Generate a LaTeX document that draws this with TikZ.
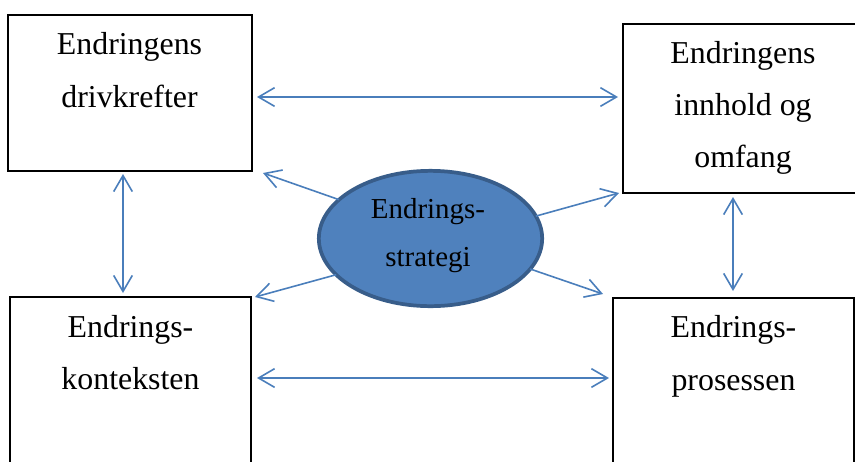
\documentclass[tikz,border=0pt]{standalone}
\usepackage{fontspec}
\setmainfont{Liberation Serif}
\usetikzlibrary{arrows.meta,shapes.geometric}
\definecolor{arrowblue}{HTML}{4A7EBB}
\definecolor{ellfill}{HTML}{4F81BD}
\definecolor{elldraw}{HTML}{385D8A}
\tikzset{
  boxshape/.style={draw=black, line width=1pt, rectangle, inner sep=0pt, outer sep=0pt},
  boxtext/.style={anchor=base, inner sep=0pt, font=\fontsize{23.9}{28}\selectfont},
  elltext/.style={anchor=base, inner sep=0pt, font=\fontsize{21.7}{26}\selectfont},
  dblarr/.style={draw=arrowblue, line width=1.2pt, {Straight Barb[length=12pt,width=14pt]}-{Straight Barb[length=12pt,width=14pt]}},
  onearr/.style={draw=arrowblue, line width=1.2pt, -{Straight Barb[length=12pt,width=14pt]}},
}
\begin{document}
\begin{tikzpicture}[x=0.75pt,y=-0.75pt]
\useasboundingbox (0,0) rectangle (855,461);
\clip (0,0) rectangle (855,461);
% boxes
\node[boxshape, minimum width=183pt, minimum height=117pt] (tl) at (130,93) {};
\node[boxshape, minimum width=180pt, minimum height=126.75pt] (tr) at (743,108.5) {};
\node[boxshape, minimum width=180.75pt, minimum height=127.5pt] (bl) at (130.5,382) {};
\node[boxshape, minimum width=180.75pt, minimum height=127.5pt] (br) at (733.5,383) {};
% box texts
\node[boxtext] (tl1) at (129.5,54) {Endringens};
\node[boxtext] (tl2) at (129.5,107) {drivkrefter};
\node[boxtext] (tr1) at (743,63) {Endringens};
\node[boxtext] (tr2) at (743,115) {innhold og};
\node[boxtext] (tr3) at (743,167) {omfang};
\node[boxtext] (bl1) at (130.5,337) {Endrings-};
\node[boxtext] (bl2) at (130.5,389) {konteksten};
\node[boxtext] (br1) at (733.5,337) {Endrings-};
\node[boxtext] (br2) at (733.5,390) {prosessen};
% ellipse
\node[ellipse, draw=elldraw, fill=ellfill, line width=2.8pt, minimum width=167.5pt, minimum height=101.5pt, inner sep=0pt, outer sep=0pt] (ell) at (430.5,238.5) {};
\node[elltext] (e1) at (428,218) {Endrings-};
\node[elltext] (e2) at (428,266) {strategi};
% arrow end coordinates
\coordinate (htl) at (257,97);
\coordinate (htr) at (618,97);
\coordinate (hbl) at (257,378);
\coordinate (hbr) at (609,378);
\coordinate (vlt) at (123,174);
\coordinate (vlb) at (123,293);
\coordinate (vrt) at (733,197);
\coordinate (vrb) at (733,291);
\coordinate (dtl) at (263,173);
\coordinate (dbl) at (255,297);
\coordinate (dtr) at (619,193);
\coordinate (dbr) at (603,294);
% arrows
\draw[dblarr] (htl) -- (htr);
\draw[dblarr] (hbl) -- (hbr);
\draw[dblarr] (vlt) -- (vlb);
\draw[dblarr] (vrt) -- (vrb);
\draw[onearr] (ell.157) -- (dtl);
\draw[onearr] (ell.201) -- (dbl);
\draw[onearr] (ell.12) -- (dtr);
\draw[onearr] (ell.-17) -- (dbr);
\end{tikzpicture}
\end{document}
